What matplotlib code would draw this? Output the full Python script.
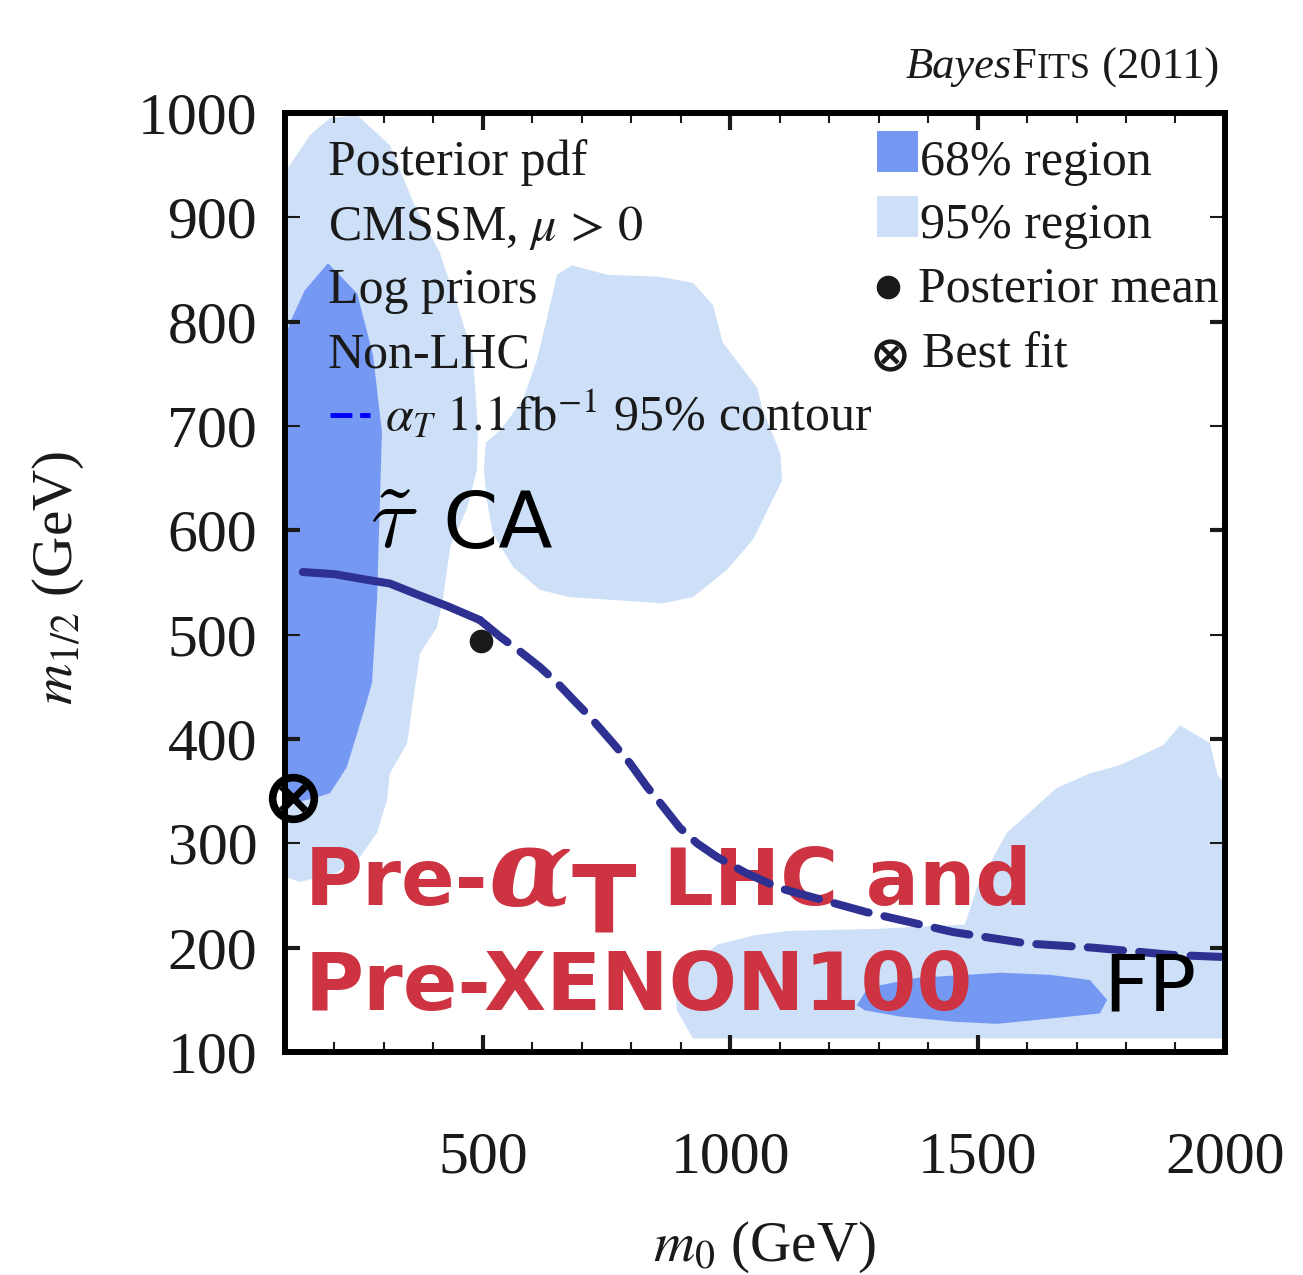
import numpy as np
import matplotlib.pyplot as plt
from matplotlib.ticker import MultipleLocator, FormatStrFormatter
from matplotlib.patches import Rectangle

# 95% credible regions, (m0, m1/2) in GeV
r95_left_m0 = [100, 130, 205, 252, 286, 306, 312, 347, 359, 373, 407, 419, 434, 468, 488, 490,
               480, 448, 413, 359, 312, 246, 191, 151, 100]
r95_left_m12 = [268, 263, 272, 287, 310, 341, 367, 396, 437, 482, 507, 533, 584, 621, 658, 696,
                768, 817, 866, 915, 969, 998, 995, 979, 943]
r95_mid_m0 = [650, 680, 751, 858, 925, 965, 985, 1054, 1066, 1101, 1105, 1046, 993, 925, 864, 676,
              615, 561, 520, 508, 502, 506, 535, 581, 609, 630]
r95_mid_m12 = [845, 854, 845, 843, 837, 816, 780, 737, 715, 674, 648, 591, 562, 536, 530, 536,
               543, 565, 597, 629, 658, 684, 696, 725, 763, 804]
r95_fp_m0 = [925, 892, 888, 975, 1050, 1115, 1299, 1373, 1474, 1499, 1559, 1660, 1727, 1788, 1875,
             1909, 1970, 1984, 2000, 2000]
r95_fp_m12 = [113, 140, 173, 203, 212, 216, 218, 220, 222, 258, 310, 353, 367, 375, 394,
              413, 396, 367, 356, 113]

# 68% credible regions
r68_left_m0 = [100, 157, 191, 225, 252, 266, 276, 286, 292, 296, 278, 246, 187, 140, 110, 100]
r68_left_m12 = [337, 343, 348, 373, 415, 437, 454, 533, 629, 694, 768, 827, 856, 830, 799, 782]
r68_fp_m0 = [1256, 1272, 1303, 1377, 1545, 1646, 1727, 1762, 1747, 1667, 1539, 1454, 1343, 1272]
r68_fp_m12 = [145, 157, 164, 171, 176, 174, 169, 150, 137, 133, 127, 129, 134, 140]

# alpha_T 1.1/fb 95% exclusion contour
alphaT_m0 = [136, 200, 260, 312, 370, 430, 494, 535, 575, 615, 650, 682, 717, 763, 797, 832,
             858, 898, 933, 973, 1030, 1100, 1276, 1450, 1600, 1733, 1895, 2000]
alphaT_m12 = [560, 558, 553, 549, 538, 527, 514, 498, 484, 469, 454, 438, 421, 396, 377, 354,
              339, 315, 300, 287, 272, 257, 234, 215, 204, 200, 193, 191]
n_solid = 7  # first part of the contour is drawn solid

mean_pt = (496, 494)
best_pt = (116, 343)

c68 = '#7598f3'
c95 = '#cde0f7'
cline = '#2e3192'
cred = '#cd3341'
serif = 'Liberation Serif'

fig = plt.figure(figsize=(13.03, 12.75), dpi=100)
ax = fig.add_axes([0.2187, 0.1749, 0.7214, 0.7365])

ax.fill(r95_left_m0, r95_left_m12, color=c95, lw=0)
ax.fill(r95_mid_m0, r95_mid_m12, color=c95, lw=0)
ax.fill(r95_fp_m0, r95_fp_m12, color=c95, lw=0)
ax.fill(r68_left_m0, r68_left_m12, color=c68, lw=0)
ax.fill(r68_fp_m0, r68_fp_m12, color=c68, lw=0)

ax.plot(alphaT_m0[:n_solid], alphaT_m12[:n_solid], color=cline, lw=5.8,
        solid_capstyle='round', solid_joinstyle='round', zorder=5)
ax.plot(alphaT_m0[n_solid - 1:], alphaT_m12[n_solid - 1:], color=cline, lw=5.8,
        dashes=(4.4, 2.0), dash_capstyle='round', dash_joinstyle='round', zorder=5)

ax.plot(*mean_pt, 'o', color='#1a1a1a', ms=16, zorder=6)
ax.plot(*best_pt, 'o', mfc='none', mec='black', ms=30, mew=5.5, zorder=6, clip_on=False)
ax.plot(*best_pt, 'x', color='black', ms=17, mew=5, zorder=6, clip_on=False)

ax.set_xlim(100, 2000)
ax.set_ylim(100, 1000)
ax.xaxis.set_major_locator(MultipleLocator(500))
ax.xaxis.set_minor_locator(MultipleLocator(100))
ax.yaxis.set_major_locator(MultipleLocator(200))
ax.yaxis.set_minor_locator(MultipleLocator(100))
ax.yaxis.set_minor_formatter(FormatStrFormatter('%d'))
ax.xaxis.set_major_formatter(FormatStrFormatter('%d'))
ax.yaxis.set_major_formatter(FormatStrFormatter('%d'))
ax.tick_params(which='both', direction='in', top=True, right=True, labelsize=43,
               labelfontfamily=serif, colors='#1a1a1a')
ax.tick_params(axis='x', which='major', length=12, width=3, pad=57)
ax.tick_params(axis='x', which='minor', length=7, width=1.5)
ax.tick_params(axis='y', which='major', length=11, width=3, pad=20)
ax.tick_params(axis='y', which='minor', length=11, width=1.5, pad=20)
for s in ax.spines.values():
    s.set_linewidth(4.3)
    s.set_zorder(7)

fig.text(0.0445, 0.5467, r'$m_{1/2}$ (GeV)', rotation=90, ha='center', va='center',
         fontsize=41, family=serif, math_fontfamily='stix', color='#1a1a1a')
fig.text(0.587, 0.011, r'$m_0$ (GeV)', ha='center', va='baseline',
         fontsize=41, family=serif, math_fontfamily='stix', color='#1a1a1a')

# info block, top left
info = ['Posterior pdf', r'CMSSM, $\mu\,>\,0$', 'Log priors', 'Non-LHC']
info_y = [0.934, 0.865, 0.798, 0.729]
for s, y in zip(info, info_y):
    ax.text(0.0457, y, s, transform=ax.transAxes, fontsize=36, family=serif,
            math_fontfamily='stix', va='baseline', color='#1a1a1a', zorder=8)
ax.plot([0.048, 0.090], [0.678, 0.678], transform=ax.transAxes, color='#0000ff', lw=3.5,
        dashes=(4.5, 1.6), clip_on=False, zorder=8)
ax.text(0.106, 0.662, r'$\alpha_T$ $1.1\,\mathrm{fb}^{-1}$ 95% contour', transform=ax.transAxes,
        fontsize=36, family=serif, math_fontfamily='stix', va='baseline', color='#1a1a1a', zorder=8)

# legend, top right
ax.add_patch(Rectangle((0.630, 0.937), 0.043, 0.044, transform=ax.transAxes, color=c68, lw=0))
ax.add_patch(Rectangle((0.630, 0.868), 0.043, 0.044, transform=ax.transAxes, color=c95, lw=0))
ax.plot(0.6415, 0.815, 'o', color='#1a1a1a', ms=16, transform=ax.transAxes, clip_on=False)
ax.plot(0.6436, 0.742, 'o', mfc='none', mec='#1a1a1a', ms=20, mew=3.2, transform=ax.transAxes,
        clip_on=False)
ax.plot(0.6436, 0.742, 'x', color='#1a1a1a', ms=11, mew=3.2, transform=ax.transAxes, clip_on=False)
leg = ['68% region', '95% region', 'Posterior mean', 'Best fit']
leg_x = [0.6755, 0.6755, 0.673, 0.678]
leg_y = [0.934, 0.867, 0.799, 0.729]
for s, x, y in zip(leg, leg_x, leg_y):
    ax.text(x, y, s, transform=ax.transAxes, fontsize=36, family=serif, va='baseline',
            color='#1a1a1a', zorder=8)


def chain(prev, s, y, coords, dy=0, **kw):
    return ax.annotate(s, xy=(1, y), xycoords=(prev, coords), xytext=(0, dy),
                       textcoords='offset points', ha='left', va='baseline',
                       annotation_clip=False, **kw)


# region labels
t = ax.text(0.0904, 0.537, r'$\tilde{\tau}$', transform=ax.transAxes, fontsize=64,
            math_fontfamily='cm', va='baseline', zorder=8)
chain(t, ' CA', 0.537, 'axes fraction', fontsize=57, family='DejaVu Sans', zorder=8)
ax.text(0.870, 0.0447, 'FP', transform=ax.transAxes, fontsize=57, family='DejaVu Sans',
        va='baseline', zorder=8)

red = dict(color=cred, family='DejaVu Sans', fontweight='bold', zorder=4)
t = ax.text(0.0213, 0.1565, 'Pre-', transform=ax.transAxes, fontsize=57, va='baseline', **red)
t = chain(t, '\u03b1', 0.1565, 'axes fraction', dy=0, fontsize=78, color=cred,
          family='DejaVu Serif', style='italic', fontweight='bold', zorder=4)
t = chain(t, 'T', 0.1565, 'axes fraction', dy=-20, fontsize=68, **red)
t = chain(t, ' LHC and', 0.1565, 'axes fraction', fontsize=57, **red)
ax.text(0.0213, 0.0447, 'Pre-XENON100', transform=ax.transAxes, fontsize=58, va='baseline', **red)

# header
hdr = dict(family=serif, color='#1a1a1a')
t = fig.text(0.695, 0.9388, 'Bayes', fontsize=32, style='italic', va='baseline', **hdr)
t = chain(t, 'F', 0.9388, 'figure fraction', fontsize=32, **hdr)
t = chain(t, 'ITS', 0.9388, 'figure fraction', fontsize=26, **hdr)
t = chain(t, ' (2011)', 0.9388, 'figure fraction', fontsize=32, **hdr)

fig.savefig('out.png', dpi=100)
